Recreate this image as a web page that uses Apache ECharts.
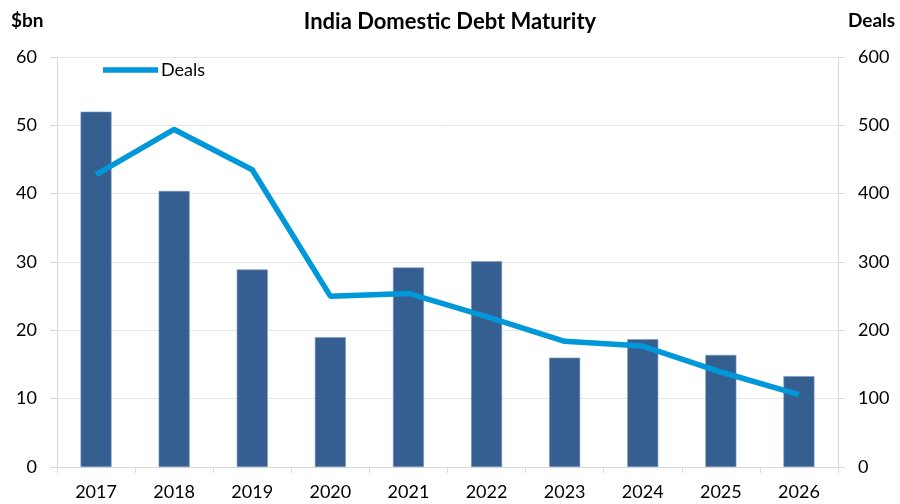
<!DOCTYPE html>
<html><head><meta charset="utf-8">
<script src="https://cdn.jsdelivr.net/npm/echarts@6/dist/echarts.min.js"></script>
<style>html,body{margin:0;padding:0;background:#fff}#c{width:900px;height:504px}</style>
</head><body><div id="c"></div>
<script>
const categories = ['2017','2018','2019','2020','2021','2022','2023','2024','2025','2026'];
const debtBn = [52.0, 40.4, 28.9, 19.0, 29.2, 30.1, 16.0, 18.7, 16.4, 13.3];
const deals = [428, 494, 435, 250, 254, 220, 184, 177, 139, 106];
const leftTicks = {min: 0, max: 60, interval: 10};
const rightTicks = {min: 0, max: 600, interval: 100};

const FONT = 'Lato, "Open Sans", sans-serif';
const chart = echarts.init(document.getElementById('c'), null, {renderer: 'canvas'});
chart.setOption({
  animation: false,
  backgroundColor: '#fff',
  title: {
    text: 'India Domestic Debt Maturity',
    left: 'center', top: 6,
    textStyle: {fontFamily: FONT, fontSize: 22, fontWeight: 'bold', color: '#000'}
  },
  legend: {
    data: [{name: 'Deals', icon: 'path://M0,0 L10,0 L10,1 L0,1 Z'}],
    left: 98, top: 56,
    itemWidth: 55, itemHeight: 6, itemGap: 4,
    textStyle: {fontFamily: FONT, fontSize: 18, color: '#000', padding: [0,0,0,-2]}
  },
  grid: {left: 57, right: 62, top: 57, bottom: 37, containLabel: false},
  xAxis: {
    type: 'category', data: categories,
    axisLine: {lineStyle: {color: '#d9d9d9', width: 1}},
    axisTick: {show: true, alignWithLabel: false, length: 6, lineStyle: {color: '#d9d9d9'}},
    axisLabel: {fontFamily: FONT, fontSize: 18, color: '#000', margin: 16}
  },
  yAxis: [
    {
      type: 'value', name: '$bn', min: leftTicks.min, max: leftTicks.max, interval: leftTicks.interval,
      nameLocation: 'end', nameGap: 0,
      nameTextStyle: {fontFamily: FONT, fontSize: 19, fontWeight: 'bold', color: '#000', align: 'left', verticalAlign: 'top', padding: [-46, 0, 0, -46]},
      axisLine: {show: true, lineStyle: {color: '#d9d9d9'}},
      axisTick: {show: true, length: 7, lineStyle: {color: '#d9d9d9'}},
      splitLine: {show: true, lineStyle: {color: '#e6e6e6', width: 1}},
      axisLabel: {fontFamily: FONT, fontSize: 18, color: '#000', margin: 20}
    },
    {
      type: 'value', name: 'Deals', min: rightTicks.min, max: rightTicks.max, interval: rightTicks.interval,
      position: 'right', nameLocation: 'end', nameGap: 0,
      nameTextStyle: {fontFamily: FONT, fontSize: 19, fontWeight: 'bold', color: '#000', align: 'left', verticalAlign: 'top', padding: [-46, 0, 0, 10]},
      axisLine: {show: true, lineStyle: {color: '#d9d9d9'}},
      axisTick: {show: true, length: 7, lineStyle: {color: '#d9d9d9'}},
      splitLine: {show: false},
      axisLabel: {fontFamily: FONT, fontSize: 18, color: '#000', margin: 20}
    }
  ],
  series: [
    {
      name: '$bn', type: 'bar', data: debtBn, yAxisIndex: 0,
      barWidth: 31,
      itemStyle: {color: '#365f91', borderColor: '#7f97b8', borderWidth: 0.6}
    },
    {
      name: 'Deals', type: 'line', data: deals, yAxisIndex: 1,
      symbol: 'none', lineStyle: {color: '#0098d8', width: 5.5}, itemStyle: {color: '#0098d8'}
    }
  ]
});
</script></body></html>
